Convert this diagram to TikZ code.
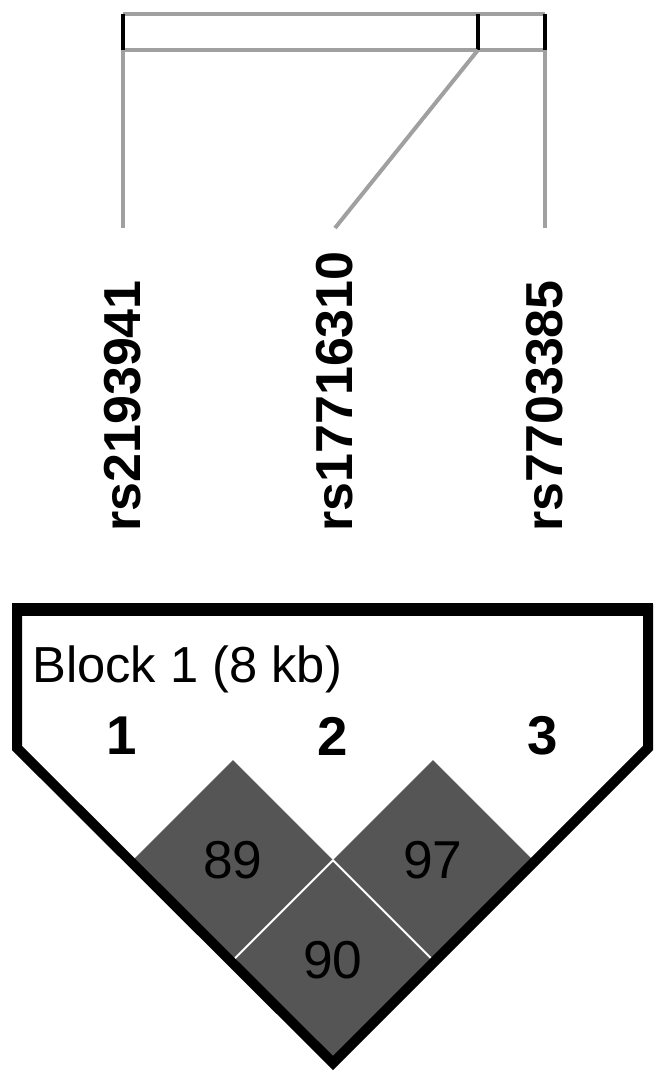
\documentclass[tikz,border=0pt]{standalone}
\usepackage{fontspec}
\setmainfont{Liberation Sans}
\usepackage{tikz}
\usetikzlibrary{shapes.geometric}

\definecolor{ldgray}{RGB}{85,85,85}
\definecolor{bargray}{RGB}{160,160,160}

\tikzset{
	snp/.style={rotate=90, anchor=base west, inner sep=0pt, font=\bfseries\fontsize{39}{39}\selectfont},
	marker/.style={inner sep=0pt, font=\bfseries\fontsize{41}{41}\selectfont},
	ld/.style={shape=diamond, fill=ldgray, minimum width=150pt, minimum height=150pt, inner sep=0pt, font=\fontsize{40}{40}\selectfont},
}

\begin{document}
\begin{tikzpicture}[x=0.75pt,y=-0.75pt]
	\useasboundingbox (0,0) rectangle (666,1083);
	
	\draw[bargray, line width=3pt] (123,14) -- (545,14) (123,50) -- (545,50);
	\draw[line width=3pt] (123,14) -- (123,50) (478,14) -- (478,50) (545,14) -- (545,50);
	
	\coordinate (b1) at (123,50);
	\coordinate (b2) at (478,50);
	\coordinate (b3) at (545,50);
	\coordinate (t1) at (123,228);
	\coordinate (t2) at (335,228);
	\coordinate (t3) at (545,228);
	
	\path [-, bargray, line width=3pt] (b1) edge (t1);
	\path [-, bargray, line width=3pt] (b2) edge (t2);
	\path [-, bargray, line width=3pt] (b3) edge (t3);
	
	\node[snp] (s1) at (140,532) {rs2193941};
	\node[snp] (s2) at (352,532) {rs17716310};
	\node[snp] (s3) at (562,532) {rs7703385};
	
	\node[ld] (d12) at (233,860) {89};
	\node[ld] (d23) at (433,860) {97};
	\node[ld] (d13) at (333,960) {90};
	\path [-, white, line width=1.5pt] (d12.east) edge (d12.south);
	\path [-, white, line width=1.5pt] (d23.west) edge (d23.south);
	
	\draw[line width=7.5pt] (17,609) -- (648,609) -- (648,748) -- (333,1063) -- (17,748) -- cycle;
	\draw[line width=9.75pt] (12,609.5) -- (653,609.5);
	
	\node[anchor=base west, inner sep=0pt, font=\fontsize{38}{38}\selectfont] (blk) at (32,682) {Block 1 (8 kb)};
	\node[marker] (1) at (122,736) {1};
	\node[marker] (2) at (333,736) {2};
	\node[marker] (3) at (543,736) {3};
\end{tikzpicture}
\end{document}
